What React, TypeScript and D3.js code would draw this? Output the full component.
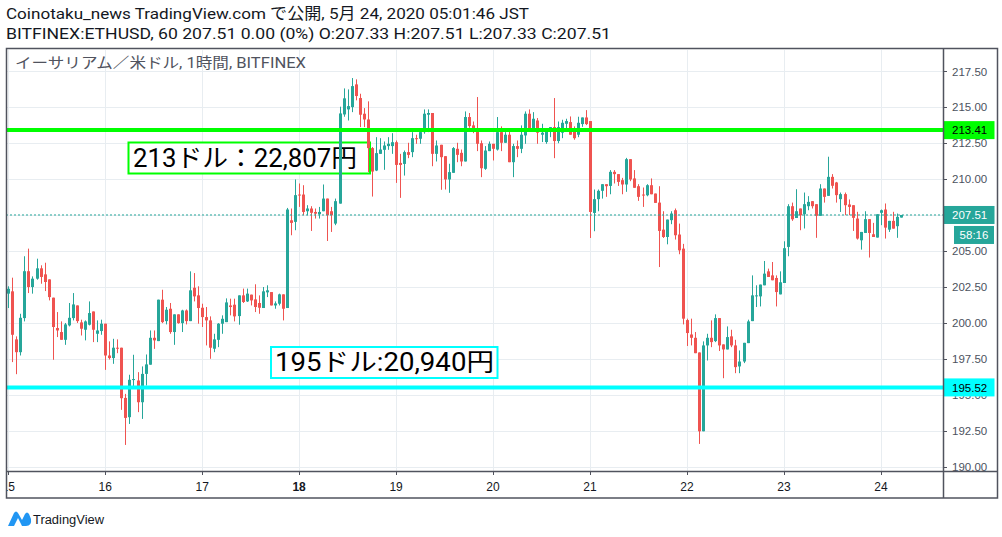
import React from 'react';
import * as d3 from 'd3';

// ---------- DATA (hourly candles, BITFINEX:ETHUSD, from 2020-05-15 00:00) ----------
const startTime = Date.UTC(2020, 4, 15, 0, 0);

const opens = [
  202.04, 202.2, 198.86, 197.97, 200.34, 203.6, 202.5, 203.08, 203.8, 203.38, 203.03, 201.76,
  199.65, 199.37, 198.83, 199.83, 200.34, 201.22, 200.04, 199.53, 199.88, 200.8, 199.25, 199.44,
  199.95, 197.74, 197.56, 198.28, 198.28, 194.79, 193.45, 196.03, 196.0, 194.49, 196.46, 197.1,
  198.97, 198.74, 201.62, 200.13, 200.99, 199.37, 200.6, 199.99, 200.87, 200.13, 202.45, 201.92,
  201.06, 200.41, 200.18, 198.21, 198.83, 199.95, 200.06, 201.22, 201.27, 200.48, 201.92, 201.5,
  201.97, 201.64, 201.39, 201.04, 202.13, 202.15, 201.22, 201.34, 201.99, 201.04, 207.14, 207.03,
  208.93, 208.93, 207.77, 207.96, 207.72, 207.56, 207.77, 208.65, 207.77, 206.91, 208.3, 214.5,
  214.85, 215.01, 216.59, 215.64, 214.55, 214.15, 212.16, 210.6, 211.76, 212.04, 212.3, 212.3,
  212.57, 211.13, 211.06, 211.88, 211.88, 212.85, 212.81, 213.27, 214.48, 214.6, 211.76, 212.39,
  211.6, 209.98, 210.44, 212.11, 211.83, 211.23, 214.32, 213.74, 213.55, 212.5, 210.72, 211.95,
  212.46, 212.06, 213.27, 212.53, 213.09, 211.18, 212.3, 212.11, 213.04, 214.55, 213.5, 214.08,
  213.09, 212.58, 213.32, 213.62, 212.65, 213.23, 213.85, 213.97, 213.32, 213.09, 213.83, 214.29,
  214.04, 207.65, 208.61, 209.19, 209.65, 209.53, 210.51, 210.35, 209.93, 209.63, 211.39, 210.05,
  209.51, 208.93, 208.88, 209.58, 209.0, 208.37, 206.49, 205.98, 207.15, 207.84, 206.15, 205.17,
  200.2, 199.2, 198.97, 197.95, 192.47, 198.44, 198.97, 198.74, 200.34, 198.51, 198.16, 199.07,
  198.44, 196.98, 197.32, 198.6, 200.13, 201.85, 201.85, 202.62, 203.59, 203.31, 203.13, 201.99,
  202.78, 205.29, 208.12, 207.3, 207.96, 207.56, 208.12, 208.47, 208.26, 207.45, 209.35, 208.84,
  210.16, 209.77, 208.61, 208.96, 208.24, 208.19, 207.26, 205.75, 206.26, 207.22, 206.17, 205.94,
  207.66, 207.89, 206.49, 207.1, 206.73, 207.33,
];
const highs = [
  202.55, 203.15, 199.07, 200.64, 204.64, 205.17, 203.24, 204.47, 204.01, 204.19, 203.03, 201.76,
  200.76, 200.11, 200.0, 201.39, 202.08, 201.22, 200.23, 200.18, 201.5, 200.8, 200.18, 200.23,
  199.95, 198.72, 198.9, 198.86, 198.28, 195.07, 196.4, 197.79, 196.58, 196.98, 197.81, 199.48,
  199.48, 201.62, 202.31, 201.11, 201.39, 200.6, 200.6, 200.92, 200.94, 203.59, 203.47, 202.55,
  201.34, 201.11, 200.46, 199.25, 199.99, 200.53, 201.71, 201.69, 201.69, 201.92, 202.39, 202.39,
  201.97, 202.69, 201.92, 202.5, 202.62, 202.15, 201.5, 202.04, 201.99, 208.0, 207.96, 209.98,
  209.7, 209.58, 208.19, 208.12, 207.96, 208.07, 209.63, 208.65, 208.07, 208.65, 215.04, 216.31,
  216.24, 217.03, 216.94, 215.94, 214.94, 215.41, 212.23, 212.92, 212.85, 212.62, 212.92, 213.2,
  212.69, 211.76, 211.99, 212.53, 213.27, 213.09, 213.5, 214.85, 214.85, 214.6, 212.69, 212.39,
  211.6, 211.07, 212.23, 212.53, 212.06, 214.71, 214.6, 214.01, 215.71, 212.69, 212.3, 212.62,
  212.46, 214.32, 213.67, 213.27, 213.39, 212.46, 212.69, 213.74, 214.71, 214.85, 214.66, 214.25,
  213.85, 213.55, 213.62, 215.64, 214.01, 214.13, 214.2, 214.36, 213.67, 214.34, 214.29, 214.8,
  214.04, 209.28, 209.28, 209.65, 209.65, 210.63, 210.63, 210.35, 210.09, 211.48, 211.39, 210.63,
  209.65, 209.42, 209.65, 210.05, 209.0, 209.51, 207.77, 207.19, 207.77, 207.96, 206.91, 205.5,
  200.3, 200.3, 199.37, 197.95, 198.72, 199.25, 200.18, 200.6, 200.34, 198.51, 199.76, 199.53,
  198.83, 198.09, 198.62, 200.23, 203.31, 202.62, 202.67, 204.31, 203.78, 204.24, 203.31, 203.59,
  205.68, 208.26, 208.37, 209.3, 207.96, 209.07, 208.82, 208.47, 208.26, 209.65, 209.35, 211.56,
  210.35, 209.81, 209.07, 209.07, 208.59, 208.19, 207.73, 206.33, 207.77, 207.22, 206.96, 207.56,
  207.89, 208.31, 207.1, 207.73, 207.61, 207.51,
];
const lows = [
  201.04, 197.28, 196.44, 197.74, 200.11, 202.08, 202.04, 203.01, 202.73, 202.22, 201.57, 197.44,
  199.02, 198.83, 198.48, 199.76, 200.18, 200.0, 199.13, 198.79, 199.83, 198.67, 198.67, 199.18,
  196.74, 197.46, 197.16, 197.9, 193.96, 191.52, 192.98, 195.54, 193.8, 193.33, 195.65, 197.1,
  198.2, 198.74, 199.99, 199.9, 199.25, 198.48, 199.95, 199.37, 199.9, 200.13, 201.5, 199.95,
  199.72, 198.44, 197.51, 197.97, 198.32, 199.25, 200.06, 200.53, 200.11, 199.88, 201.39, 201.46,
  201.22, 200.76, 200.64, 201.04, 201.8, 201.22, 200.99, 201.22, 200.18, 201.04, 206.1, 206.45,
  208.07, 207.49, 207.49, 206.4, 207.26, 207.26, 207.77, 205.7, 206.33, 206.8, 208.3, 214.34,
  214.08, 214.66, 215.48, 213.62, 213.62, 210.49, 208.79, 210.56, 211.76, 210.65, 212.04, 211.76,
  209.74, 208.7, 210.25, 211.46, 211.53, 212.46, 212.46, 213.16, 213.27, 210.9, 211.23, 209.26,
  209.28, 209.05, 210.44, 211.18, 210.9, 211.23, 213.57, 213.2, 211.95, 210.14, 210.65, 211.95,
  211.3, 211.99, 211.95, 212.53, 211.18, 210.14, 211.53, 211.81, 212.46, 213.39, 213.39, 212.46,
  212.58, 212.46, 212.92, 211.46, 212.5, 212.85, 213.39, 213.09, 212.74, 212.92, 213.64, 213.76,
  205.91, 206.38, 207.77, 208.65, 208.77, 208.95, 209.7, 209.53, 208.95, 209.12, 209.86, 209.4,
  208.49, 208.07, 208.81, 208.95, 208.35, 203.89, 205.91, 205.47, 206.87, 205.8, 204.78, 199.9,
  198.4, 198.44, 197.9, 191.59, 192.47, 197.39, 198.32, 198.67, 198.05, 196.16, 198.16, 198.32,
  196.51, 196.51, 197.21, 198.6, 200.13, 201.11, 201.15, 202.62, 203.2, 202.97, 201.15, 201.99,
  202.78, 204.64, 207.1, 207.3, 206.45, 206.57, 207.84, 207.96, 205.92, 207.45, 208.37, 208.84,
  209.35, 208.37, 207.72, 207.5, 207.5, 206.4, 205.8, 205.1, 206.26, 204.55, 205.98, 205.94,
  206.8, 205.87, 206.33, 206.56, 205.92, 207.33,
];
const closes = [
  202.38, 199.18, 197.97, 200.36, 203.6, 202.5, 203.08, 203.8, 203.2, 202.85, 201.8, 199.72,
  199.48, 198.83, 199.9, 200.36, 201.29, 200.13, 199.6, 200.11, 200.69, 199.53, 199.48, 199.95,
  197.74, 197.56, 198.28, 198.23, 194.77, 193.4, 196.05, 196.1, 194.49, 196.46, 197.12, 198.97,
  198.79, 201.62, 200.06, 200.92, 199.37, 200.6, 199.99, 200.87, 200.13, 202.27, 201.85, 201.04,
  200.41, 200.18, 198.28, 198.86, 199.95, 200.29, 201.43, 201.11, 200.46, 201.92, 201.46, 202.04,
  201.57, 201.11, 201.06, 202.2, 202.27, 201.22, 201.36, 201.99, 200.99, 207.89, 206.96, 208.89,
  208.88, 207.72, 207.96, 207.66, 207.6, 207.72, 208.65, 207.49, 207.49, 208.47, 214.57, 215.62,
  215.08, 216.47, 215.78, 214.48, 214.15, 212.16, 210.53, 211.81, 212.06, 212.34, 212.46, 212.57,
  210.99, 210.99, 211.88, 211.69, 212.85, 212.81, 213.27, 214.55, 214.6, 211.76, 212.34, 211.53,
  209.98, 210.49, 212.16, 211.69, 211.23, 214.32, 213.69, 213.32, 212.46, 210.76, 211.99, 212.46,
  212.11, 213.27, 212.53, 213.09, 211.18, 212.3, 212.11, 213.09, 214.55, 213.55, 214.2, 213.23,
  213.23, 213.39, 213.62, 212.65, 213.62, 213.92, 214.04, 213.09, 212.85, 213.92, 214.29, 213.83,
  207.72, 208.61, 209.19, 209.65, 209.51, 210.51, 210.35, 209.81, 209.63, 211.39, 209.98, 209.4,
  208.77, 208.88, 209.58, 208.95, 208.35, 206.4, 205.98, 207.19, 207.61, 206.1, 205.05, 200.3,
  199.3, 198.97, 197.9, 192.47, 198.44, 198.97, 198.67, 200.34, 198.44, 198.16, 199.02, 198.44,
  196.93, 197.32, 198.62, 200.11, 201.92, 201.92, 202.67, 203.43, 203.2, 202.97, 202.15, 202.83,
  205.2, 208.12, 207.21, 207.77, 207.49, 208.26, 208.42, 208.12, 207.45, 209.35, 208.77, 210.16,
  209.54, 208.89, 208.96, 208.19, 208.07, 207.31, 205.87, 206.33, 207.22, 206.26, 205.98, 207.56,
  207.84, 206.63, 207.1, 206.56, 207.38, 207.51,
];

const yTickValues = [190, 192.5, 195, 197.5, 200, 202.5, 205, 207.5, 210, 212.5, 215, 217.5];
const dayTicks = [15, 16, 17, 18, 19, 20, 21, 22, 23, 24];
const boldDays = [18];

const resistance = { price: 213.41, label: '213ドル：22,807円' };
const support = { price: 195.52, label: '195ドル:20,940円' };
const lastPrice = 207.51;
const countdown = '58:16';

const headerLine1 = 'Coinotaku_news TradingView.com で公開, 5月 24, 2020 05:01:46 JST';
const headerLine2 = 'BITFINEX:ETHUSD, 60 207.51 0.00 (0%) O:207.33 H:207.51 L:207.33 C:207.51';
const chartTitle = 'イーサリアム／米ドル, 1時間, BITFINEX';

// ---------- LAYOUT ----------
const W = 1002;
const H = 537;
const paneL = 6, paneR = 943, paneT = 49, paneB = 471;
const outerR = 997, outerB = 498;
const TEAL = '#26a69a';
const RED = '#ef5350';
const GREEN = '#00ff00';
const CYAN = '#00ffff';
const GRID = '#e8edf1';
const BORDER = '#50535e';
const FONT = "'Liberation Sans', Arial, sans-serif";
const JFONT = "Roboto, 'Noto Sans CJK JP', sans-serif";

export default function App() {
  const x = d3
    .scaleUtc()
    .domain([new Date(Date.UTC(2020, 4, 15)), new Date(Date.UTC(2020, 4, 24))])
    .range([8.24, 880.9]);
  const y = d3.scaleLinear().domain([190, 217.5]).range([466.8, 71.3]);
  const t = (i: number) => d3.utcHour.offset(new Date(startTime), i);

  const candles = opens.map((o, i) => {
    const c = closes[i];
    const up = c >= o;
    const col = up ? TEAL : RED;
    const cx = Math.round(x(t(i)));
    const yTop = y(Math.max(o, c));
    const yBot = y(Math.min(o, c));
    return (
      <g key={i}>
        <line x1={cx + 0.5} x2={cx + 0.5} y1={y(highs[i])} y2={y(lows[i])} stroke={col} strokeWidth={1} />
        <rect x={cx - 1} y={yTop} width={3} height={Math.max(1, yBot - yTop)} fill={col} />
      </g>
    );
  });

  const dayX = (d: number) => x(new Date(Date.UTC(2020, 4, d)));

  const priceLabel = (p: number, fill: string, color: string) => {
    const yy = y(p);
    return (
      <g>
        <rect x={paneR + 0.5} y={yy - 9} width={outerR - paneR - 3} height={18} fill={fill} />
        <text x={952} y={yy + 4.2} fontSize={11.5} fontFamily={FONT} fill={color}>
          {p.toFixed(2)}
        </text>
      </g>
    );
  };

  return (
    <svg width={W} height={H} style={{ position: 'absolute', left: 0, top: 0, background: '#fff' }}>
      <defs>
        <clipPath id="pane">
          <rect x={paneL + 1} y={paneT + 1} width={paneR - paneL - 1} height={paneB - paneT - 1} />
        </clipPath>
        <clipPath id="xaxis">
          <rect x={paneL + 1} y={paneB} width={paneR - paneL - 1} height={outerB - paneB} />
        </clipPath>
      </defs>
      <rect x={0} y={0} width={W} height={H} fill="#fff" />

      {/* header */}
      <text x={6} y={19} fontSize={15.5} fontFamily={JFONT} fill="#131722" textLength={523} lengthAdjust="spacingAndGlyphs">
        {headerLine1}
      </text>
      <text x={6} y={38.5} fontSize={15.5} fontFamily={JFONT} fill="#131722" textLength={605} lengthAdjust="spacingAndGlyphs">
        {headerLine2}
      </text>

      {/* grid */}
      <g clipPath="url(#pane)">
        {yTickValues.map((v) => (
          <line key={'gy' + v} x1={paneL} x2={paneR} y1={Math.round(y(v)) + 0.5} y2={Math.round(y(v)) + 0.5} stroke={GRID} strokeWidth={1} />
        ))}
        {dayTicks.map((d) => (
          <line key={'gx' + d} x1={Math.round(dayX(d)) + 0.5} x2={Math.round(dayX(d)) + 0.5} y1={paneT} y2={paneB} stroke={GRID} strokeWidth={1} />
        ))}
      </g>

      {/* title */}
      <text x={15} y={68} fontSize={14.5} fontFamily={JFONT} fill="#50535e" textLength={291} lengthAdjust="spacingAndGlyphs">
        {chartTitle}
      </text>

      {/* annotation boxes */}
      <rect x={128.5} y={142.5} width={241.5} height={31} fill="#fff" stroke={GREEN} strokeWidth={2} />
      <text x={133} y={166.5} fontSize={25} fontFamily={JFONT} fill="#000" textLength={224} lengthAdjust="spacingAndGlyphs">
        {resistance.label}
      </text>
      <rect x={271} y={347} width={226.5} height={31} fill="#fff" stroke={CYAN} strokeWidth={2} />
      <text x={275} y={371} fontSize={25} fontFamily={JFONT} fill="#000" textLength={219} lengthAdjust="spacingAndGlyphs">
        {support.label}
      </text>

      {/* candles and lines */}
      <g clipPath="url(#pane)">
        {candles}
        <line x1={paneL} x2={paneR} y1={y(lastPrice)} y2={y(lastPrice)} stroke={TEAL} strokeWidth={1} strokeDasharray="2,2" />
        <line x1={paneL} x2={paneR} y1={y(resistance.price)} y2={y(resistance.price)} stroke={GREEN} strokeWidth={4} />
        <line x1={paneL} x2={paneR} y1={y(support.price)} y2={y(support.price)} stroke={CYAN} strokeWidth={4} />
      </g>

      {/* y axis */}
      {yTickValues.map((v) => (
        <g key={'yt' + v}>
          <line x1={paneR} x2={paneR + 4} y1={Math.round(y(v)) + 0.5} y2={Math.round(y(v)) + 0.5} stroke={BORDER} strokeWidth={1} />
          <text x={952} y={y(v) + 4.2} fontSize={11.5} fontFamily={FONT} fill="#4c525e">
            {v.toFixed(2)}
          </text>
        </g>
      ))}
      {priceLabel(resistance.price, GREEN, '#000')}
      {priceLabel(lastPrice, TEAL, '#fff')}
      {priceLabel(support.price, CYAN, '#000')}
      <rect x={954} y={y(lastPrice) + 11} width={40} height={18} fill={TEAL} />
      <text x={974} y={y(lastPrice) + 24} fontSize={11.5} fontFamily={FONT} fill="#fff" textAnchor="middle">
        {countdown}
      </text>

      {/* x axis */}
      <g clipPath="url(#xaxis)">
        {dayTicks.map((d) => (
          <g key={'xt' + d}>
            <line x1={Math.round(dayX(d)) + 0.5} x2={Math.round(dayX(d)) + 0.5} y1={paneB} y2={paneB + 4} stroke={BORDER} strokeWidth={1} />
            <text
              x={dayX(d)}
              y={491}
              fontSize={12}
              fontFamily={FONT}
              fill="#131722"
              textAnchor="middle"
              fontWeight={boldDays.includes(d) ? 'bold' : 'normal'}
            >
              {d}
            </text>
          </g>
        ))}
      </g>

      {/* frame */}
      <rect x={paneL + 0.5} y={paneT - 0.5} width={outerR - paneL} height={outerB - paneT + 0.5} fill="none" stroke={BORDER} strokeWidth={1.5} />
      <line x1={paneR + 0.5} x2={paneR + 0.5} y1={paneT} y2={outerB} stroke={BORDER} strokeWidth={1.5} />
      <line x1={paneL} x2={outerR} y1={paneB + 0.5} y2={paneB + 0.5} stroke={BORDER} strokeWidth={1.5} />

      {/* TradingView logo */}
      <g>
        <path d="M8,526 L14,513 Q16,510 18,513 L22,520 L25,514 Q27,511 29,514 L31,519 Q32,526 26,526 Z" fill="#2196f3" />
        <path d="M14,526 L18,518 L22,526 Z" fill="#fff" />
        <text x={33} y={524} fontSize={12.5} fontFamily={FONT} fill="#131722" textLength={71} lengthAdjust="spacingAndGlyphs">
          TradingView
        </text>
      </g>
    </svg>
  );
}
